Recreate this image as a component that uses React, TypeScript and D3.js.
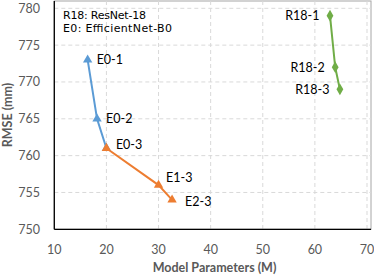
import * as d3 from 'd3';

// Model size vs. RMSE for ResNet-18 / EfficientNet variants.

const BLUE = '#5B9BD5';
const ORANGE = '#ED7D31';
const GREEN = '#70AD47';
const TICK_COLOR = '#595959';
const GRID_COLOR = '#D9D9D9';
const FONT = 'Lato, "Open Sans", sans-serif';

const xTicks = [10, 20, 30, 40, 50, 60, 70];
const yTicks = [750, 755, 760, 765, 770, 775, 780];

const e0Labels = ['E0-1', 'E0-2', 'E0-3'];
const e0Params = [16.4, 18.2, 20];
const e0Rmse = [773, 765, 761];

const scaleLabels = ['E0-3', 'E1-3', 'E2-3'];
const scaleParams = [20, 30, 32.6];
const scaleRmse = [761, 756, 754];

const r18Labels = ['R18-1', 'R18-2', 'R18-3'];
const r18Params = [62.9, 63.9, 64.8];
const r18Rmse = [779, 772, 769];

type Pt = { label: string; x: number; y: number };
const zip = (l: string[], xs: number[], ys: number[]): Pt[] =>
  l.map((label, i) => ({ label, x: xs[i], y: ys[i] }));

export default function App() {
  const width = 374;
  const height = 277;
  const left = 54.3;
  const right = 367;
  const top = 8.3;
  const bottom = 229.3;

  const x = d3.scaleLinear().domain([10, 70]).range([left, right]);
  const y = d3.scaleLinear().domain([750, 780]).range([bottom, top]);

  const line = d3.line<Pt>().x((p) => x(p.x)).y((p) => y(p.y));
  const tri = d3.symbol().type(d3.symbolTriangle).size(38)();
  const dia = d3.symbol().type(d3.symbolDiamond).size(40)();

  const blue = zip(e0Labels, e0Params, e0Rmse);
  const orange = zip(scaleLabels, scaleParams, scaleRmse);
  const green = zip(r18Labels, r18Params, r18Rmse);

  // label offsets (dx, dy) relative to each marker
  const orangeOffsets = [[9.5, -4], [7.5, -7], [13, 1.5]];

  return (
    <div style={{ position: 'fixed', left: 0, top: 0 }}>
      <svg width={width} height={height} style={{ display: 'block', background: '#fff' }} fontFamily={FONT}>
        {/* plot frame top/right */}
        <rect x={left} y={1} width={371 - left} height={bottom - 1} fill="none" stroke="#A6A6A6" strokeWidth={1} />

        {/* gridlines */}
        {yTicks.slice(1).map((t) => (
          <line key={`gy${t}`} x1={left} x2={371} y1={y(t)} y2={y(t)} stroke={GRID_COLOR} strokeDasharray="4,3" />
        ))}
        {xTicks.slice(1).map((t) => (
          <line key={`gx${t}`} x1={x(t)} x2={x(t)} y1={1} y2={bottom} stroke={GRID_COLOR} strokeDasharray="4,3" />
        ))}

        {/* axes */}
        <line x1={left} x2={left} y1={1} y2={bottom} stroke="#000" strokeWidth={1.3} />
        <line x1={left} x2={371} y1={bottom} y2={bottom} stroke="#000" strokeWidth={1.3} />

        {yTicks.map((t) => (
          <text key={`ty${t}`} x={40} y={y(t)} dy="0.35em" textAnchor="end" fontSize={12.5} fill={TICK_COLOR}>
            {t}
          </text>
        ))}
        {xTicks.map((t) => (
          <text key={`tx${t}`} x={x(t)} y={250} dy="0.35em" textAnchor="middle" fontSize={12.5} fill={TICK_COLOR}>
            {t}
          </text>
        ))}

        <text x={214.5} y={268} dy="0.35em" textAnchor="middle" fontSize={12.5} fontWeight="bold" fill={TICK_COLOR}>
          Model Parameters (M)
        </text>
        <text
          transform="translate(8,115) rotate(-90)"
          dy="0.35em"
          textAnchor="middle"
          fontSize={12.5}
          fontWeight="bold"
          fill={TICK_COLOR}
        >
          RMSE (mm)
        </text>

        {/* legend note */}
        <text x={63} y={15} dy="0.35em" fontSize={11} fill="#000" fontFamily='"DejaVu Sans", sans-serif' textLength={83}>
          R18: ResNet-18
        </text>
        <text x={63} y={28.5} dy="0.35em" fontSize={11} fill="#000" fontFamily='"DejaVu Sans", sans-serif' textLength={109}>
          E0: EfficientNet-B0
        </text>

        {/* series */}
        <path d={line(blue) ?? ''} fill="none" stroke={BLUE} strokeWidth={2} />
        <path d={line(orange) ?? ''} fill="none" stroke={ORANGE} strokeWidth={2} />
        <path d={line(green) ?? ''} fill="none" stroke={GREEN} strokeWidth={2} />

        {blue.map((p) => (
          <path key={`b${p.label}`} d={tri ?? ''} transform={`translate(${x(p.x)},${y(p.y)})`} fill={BLUE} />
        ))}
        {orange.map((p) => (
          <path key={`o${p.label}`} d={tri ?? ''} transform={`translate(${x(p.x)},${y(p.y)})`} fill={ORANGE} />
        ))}
        {green.map((p) => (
          <path key={`g${p.label}`} d={dia ?? ''} transform={`translate(${x(p.x)},${y(p.y)})`} fill={GREEN} />
        ))}

        {/* point labels */}
        {blue.slice(0, 2).map((p) => (
          <text key={`lb${p.label}`} x={x(p.x) + 9} y={y(p.y)} dy="0.35em" fontSize={12.5} fill="#000">
            {p.label}
          </text>
        ))}
        {orange.map((p, i) => (
          <text
            key={`lo${p.label}`}
            x={x(p.x) + orangeOffsets[i][0]}
            y={y(p.y) + orangeOffsets[i][1]}
            dy="0.35em"
            fontSize={12.5}
            fill="#000"
          >
            {p.label}
          </text>
        ))}
        {green.map((p) => (
          <text key={`lg${p.label}`} x={x(p.x) - 10.5} y={y(p.y)} dy="0.35em" textAnchor="end" fontSize={12.5} fill="#000">
            {p.label}
          </text>
        ))}
      </svg>
    </div>
  );
}
